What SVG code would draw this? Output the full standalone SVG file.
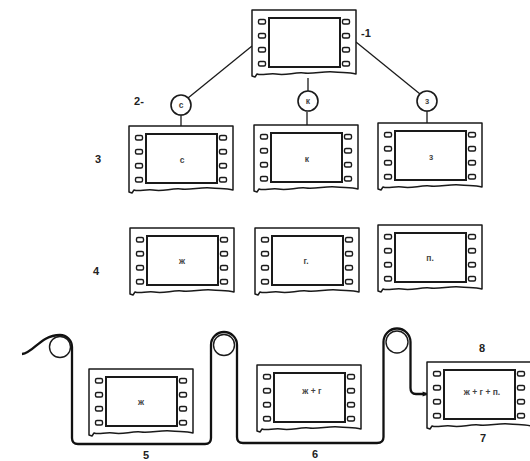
<svg xmlns="http://www.w3.org/2000/svg" xmlns:xlink="http://www.w3.org/1999/xlink" width="530" height="461" viewBox="0 0 530 461">
<style>
.outer{fill:#fff;stroke:#1a1a1a;stroke-width:1.5;stroke-linejoin:round}
.win{fill:#fff;stroke:#1a1a1a;stroke-width:2}
.hole{fill:#fff;stroke:#1a1a1a;stroke-width:1.4}
.lbl{font-family:"Liberation Sans",Arial,sans-serif;font-size:8.5px;font-weight:bold;fill:#444;text-anchor:middle}
.num{font-family:"Liberation Sans",Arial,sans-serif;font-size:11px;font-weight:bold;fill:#222;text-anchor:middle}
.ln{fill:none;stroke:#1a1a1a;stroke-width:1.3}
.circ{fill:#fff;stroke:#1a1a1a;stroke-width:1.6}
.film{fill:none;stroke:#111;stroke-width:2.3;stroke-linejoin:round}
.roller{fill:#fff;stroke:#1a1a1a;stroke-width:1.4}
</style>
<defs>
<g id="film">
<path class="outer" d="M0,0 H104 V64 C97,62 90,63 82,62 C72,61 62,64 52,63 C42,62 34,66 24,64 C16,63 10,66 5,64 L3,67 L0,66 Z"/>
<rect class="win" x="17" y="8" width="71" height="49"/>
<rect class="hole" x="6.5" y="9.5" width="7" height="4.5" rx="1.5"/>
<rect class="hole" x="6.5" y="23.5" width="7" height="4.5" rx="1.5"/>
<rect class="hole" x="6.5" y="37.5" width="7" height="4.5" rx="1.5"/>
<rect class="hole" x="6.5" y="51.5" width="7" height="4.5" rx="1.5"/>
<rect class="hole" x="90.5" y="9.5" width="7" height="4.5" rx="1.5"/>
<rect class="hole" x="90.5" y="23.5" width="7" height="4.5" rx="1.5"/>
<rect class="hole" x="90.5" y="37.5" width="7" height="4.5" rx="1.5"/>
<rect class="hole" x="90.5" y="51.5" width="7" height="4.5" rx="1.5"/>
</g>
<marker id="arr" viewBox="0 0 10 10" refX="9" refY="5" markerWidth="8" markerHeight="6" orient="auto" markerUnits="userSpaceOnUse">
<path d="M0,1 L10,5 L0,9 Z" fill="#111"/>
</marker>
</defs>

<g id="connectors">
<line class="ln" x1="252" y1="46" x2="188" y2="98"/>
<line class="ln" x1="308" y1="78" x2="308" y2="91"/>
<line class="ln" x1="356" y1="42" x2="420" y2="94"/>
<line class="ln" x1="181" y1="115" x2="181" y2="126"/>
<line class="ln" x1="307" y1="112" x2="307" y2="125"/>
<line class="ln" x1="427" y1="111" x2="427" y2="123"/>
<path class="film" marker-end="url(#arr)" d="M22,354 C34,353 40,335 60,335 A12,12 0 0 1 72,347 V438 Q72,444 78,444 H205 Q211,444 211,438 V345 A13,13 0 0 1 237,345 V437 Q237,443 243,443 H377 Q383.5,443 383.5,437 V342 A13.5,13.5 0 0 1 410.5,342 V388 Q410.5,394 416,394 H428"/>
<circle class="roller" cx="60" cy="347" r="10.5"/>
<circle class="roller" cx="224" cy="345" r="10.5"/>
<circle class="roller" cx="397" cy="342" r="11"/>
</g>

<g id="frame-top"><use xlink:href="#film" x="252" y="10"/></g>

<g id="circle-s"><circle class="circ" cx="181" cy="105" r="10"/><text class="lbl" x="181" y="108">с</text></g>
<g id="circle-k"><circle class="circ" cx="308" cy="101" r="10"/><text class="lbl" x="308" y="104">к</text></g>
<g id="circle-z"><circle class="circ" cx="427" cy="101" r="10"/><text class="lbl" x="427" y="104">з</text></g>

<g id="frame-s"><use xlink:href="#film" x="129" y="126"/><text class="lbl" x="182" y="163">с</text></g>
<g id="frame-k"><use xlink:href="#film" x="254" y="125"/><text class="lbl" x="307" y="162">к</text></g>
<g id="frame-z"><use xlink:href="#film" x="378" y="123"/><text class="lbl" x="431" y="160">з</text></g>

<g id="frame-zh"><use xlink:href="#film" x="130" y="228"/><text class="lbl" x="182" y="264">ж</text></g>
<g id="frame-g"><use xlink:href="#film" x="255" y="228"/><text class="lbl" x="306" y="264">г.</text></g>
<g id="frame-p"><use xlink:href="#film" x="378" y="225"/><text class="lbl" x="430" y="261">п.</text></g>

<g id="frame-b1"><use xlink:href="#film" x="89" y="369"/><text class="lbl" x="141" y="405">ж</text></g>
<g id="frame-b2"><use xlink:href="#film" x="257" y="365"/><text class="lbl" x="312" y="394">ж + г</text></g>
<g id="frame-b3"><use xlink:href="#film" x="427" y="362"/><text class="lbl" x="482" y="395">ж + г + п.</text></g>

<g id="labels">
<text class="num" x="366" y="37">-1</text>
<text class="num" x="139" y="105">2-</text>
<text class="num" x="98" y="163">3</text>
<text class="num" x="96" y="275">4</text>
<text class="num" x="146" y="459">5</text>
<text class="num" x="315" y="458">6</text>
<text class="num" x="483" y="442">7</text>
<text class="num" x="482" y="352">8</text>
</g>
</svg>
